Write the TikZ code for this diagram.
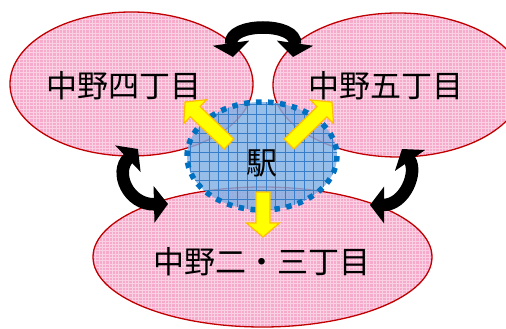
\documentclass[tikz,border=0pt]{standalone}
\usepackage{fontspec}
\newfontfamily\jpfont{Noto Sans CJK JP}
\usetikzlibrary{arrows.meta}
\definecolor{pinkfill}{RGB}{246,170,204}
\definecolor{redline}{RGB}{192,0,0}
\definecolor{bluefill}{RGB}{128,176,228}
\definecolor{blueline}{RGB}{55,125,200}
\definecolor{bluedot}{RGB}{0,112,192}
\definecolor{yellowfill}{RGB}{255,255,0}
\definecolor{yellowedge}{RGB}{255,190,0}
\newcommand\drawyarrow[3]{%
  \begin{scope}[shift={(#1)},rotate=#2]
    \filldraw[yarrow] (0,7) -- ({#3-14},7) -- ({#3-14},16.5) -- (#3,0)
      -- ({#3-14},-16.5) -- ({#3-14},-7) -- (0,-7) -- cycle;
  \end{scope}}
\begin{document}
\begin{tikzpicture}[x=1pt,y=-1pt,
  areaedge/.style={draw=redline,line width=1.3pt},
  pinkgrid/.style={white,opacity=0.45,line width=0.7pt},
  bluegrid/.style={blueline,line width=0.8pt},
  label/.style={font=\jpfont\fontsize{31}{31}\selectfont,inner sep=0pt,text=black},
  swaparrow/.style={line width=12.5pt,
    {Triangle[width=36pt,length=14pt]}-{Triangle[width=36pt,length=14pt]}},
  yarrow/.style={fill=yellowfill,draw=yellowedge,line width=1.2pt,line join=miter}]
\useasboundingbox (0,0) rectangle (506,329);

% centres
\coordinate (cL) at (131.5,84);
\coordinate (cR) at (398,85);
\coordinate (cB) at (262.5,257);
\coordinate (cS) at (262,156);

% pink areas
\begin{scope}
  \clip (cL) ellipse [x radius=121.5, y radius=72];
  \fill[pinkfill] (0,0) rectangle (506,329);
  \draw[pinkgrid,step=3.3pt] (0,0) grid (506,329);
\end{scope}
\begin{scope}
  \clip (cR) ellipse [x radius=125, y radius=72];
  \fill[pinkfill] (0,0) rectangle (506,329);
  \draw[pinkgrid,step=3.3pt] (0,0) grid (506,329);
\end{scope}
\begin{scope}
  \clip (cB) ellipse [x radius=169.5, y radius=70];
  \fill[pinkfill] (0,0) rectangle (506,329);
  \draw[pinkgrid,step=3.3pt] (0,0) grid (506,329);
\end{scope}
\draw[areaedge] (cL) ellipse [x radius=121.5, y radius=72];
\draw[areaedge] (cR) ellipse [x radius=125, y radius=72];
\draw[areaedge] (cB) ellipse [x radius=169.5, y radius=70];

% station
\begin{scope}
  \clip (cS) ellipse [x radius=75, y radius=54];
  \fill[bluefill,opacity=0.82] (150,90) rectangle (350,220);
  \draw[bluegrid,step=9.5pt] (150,90) grid (350,220);
\end{scope}
\draw[bluedot,line width=5.5pt,dash pattern=on 5.5pt off 6.5pt]
  (cS) ellipse [x radius=75, y radius=54];

% labels
\node[label] (n4) at (124,86) {中野四丁目};
\node[label] (n5) at (386,86) {中野五丁目};
\node[label] (n23) at (262,262) {中野二・三丁目};
\node[label] (st) at (262,163) {駅};

% yellow arrows
\drawyarrow{229,144}{136.3}{60.8}
\drawyarrow{289,144}{44.3}{60.1}
\drawyarrow{263,192}{-90}{45}

% black two-way arrows
\coordinate (t1) at (233,57);
\coordinate (t2) at (293,57);
\coordinate (l1) at (138,149);
\coordinate (l2) at (168,204);
\coordinate (r1) at (402,149);
\coordinate (r2) at (370,205);
\draw[swaparrow] (t1) .. controls (228,22) and (298,22) .. (t2);
\draw[swaparrow] (l1) .. controls (114,172) and (128,205) .. (l2);
\draw[swaparrow] (r1) .. controls (418,172) and (405,205) .. (r2);
\end{tikzpicture}
\end{document}
